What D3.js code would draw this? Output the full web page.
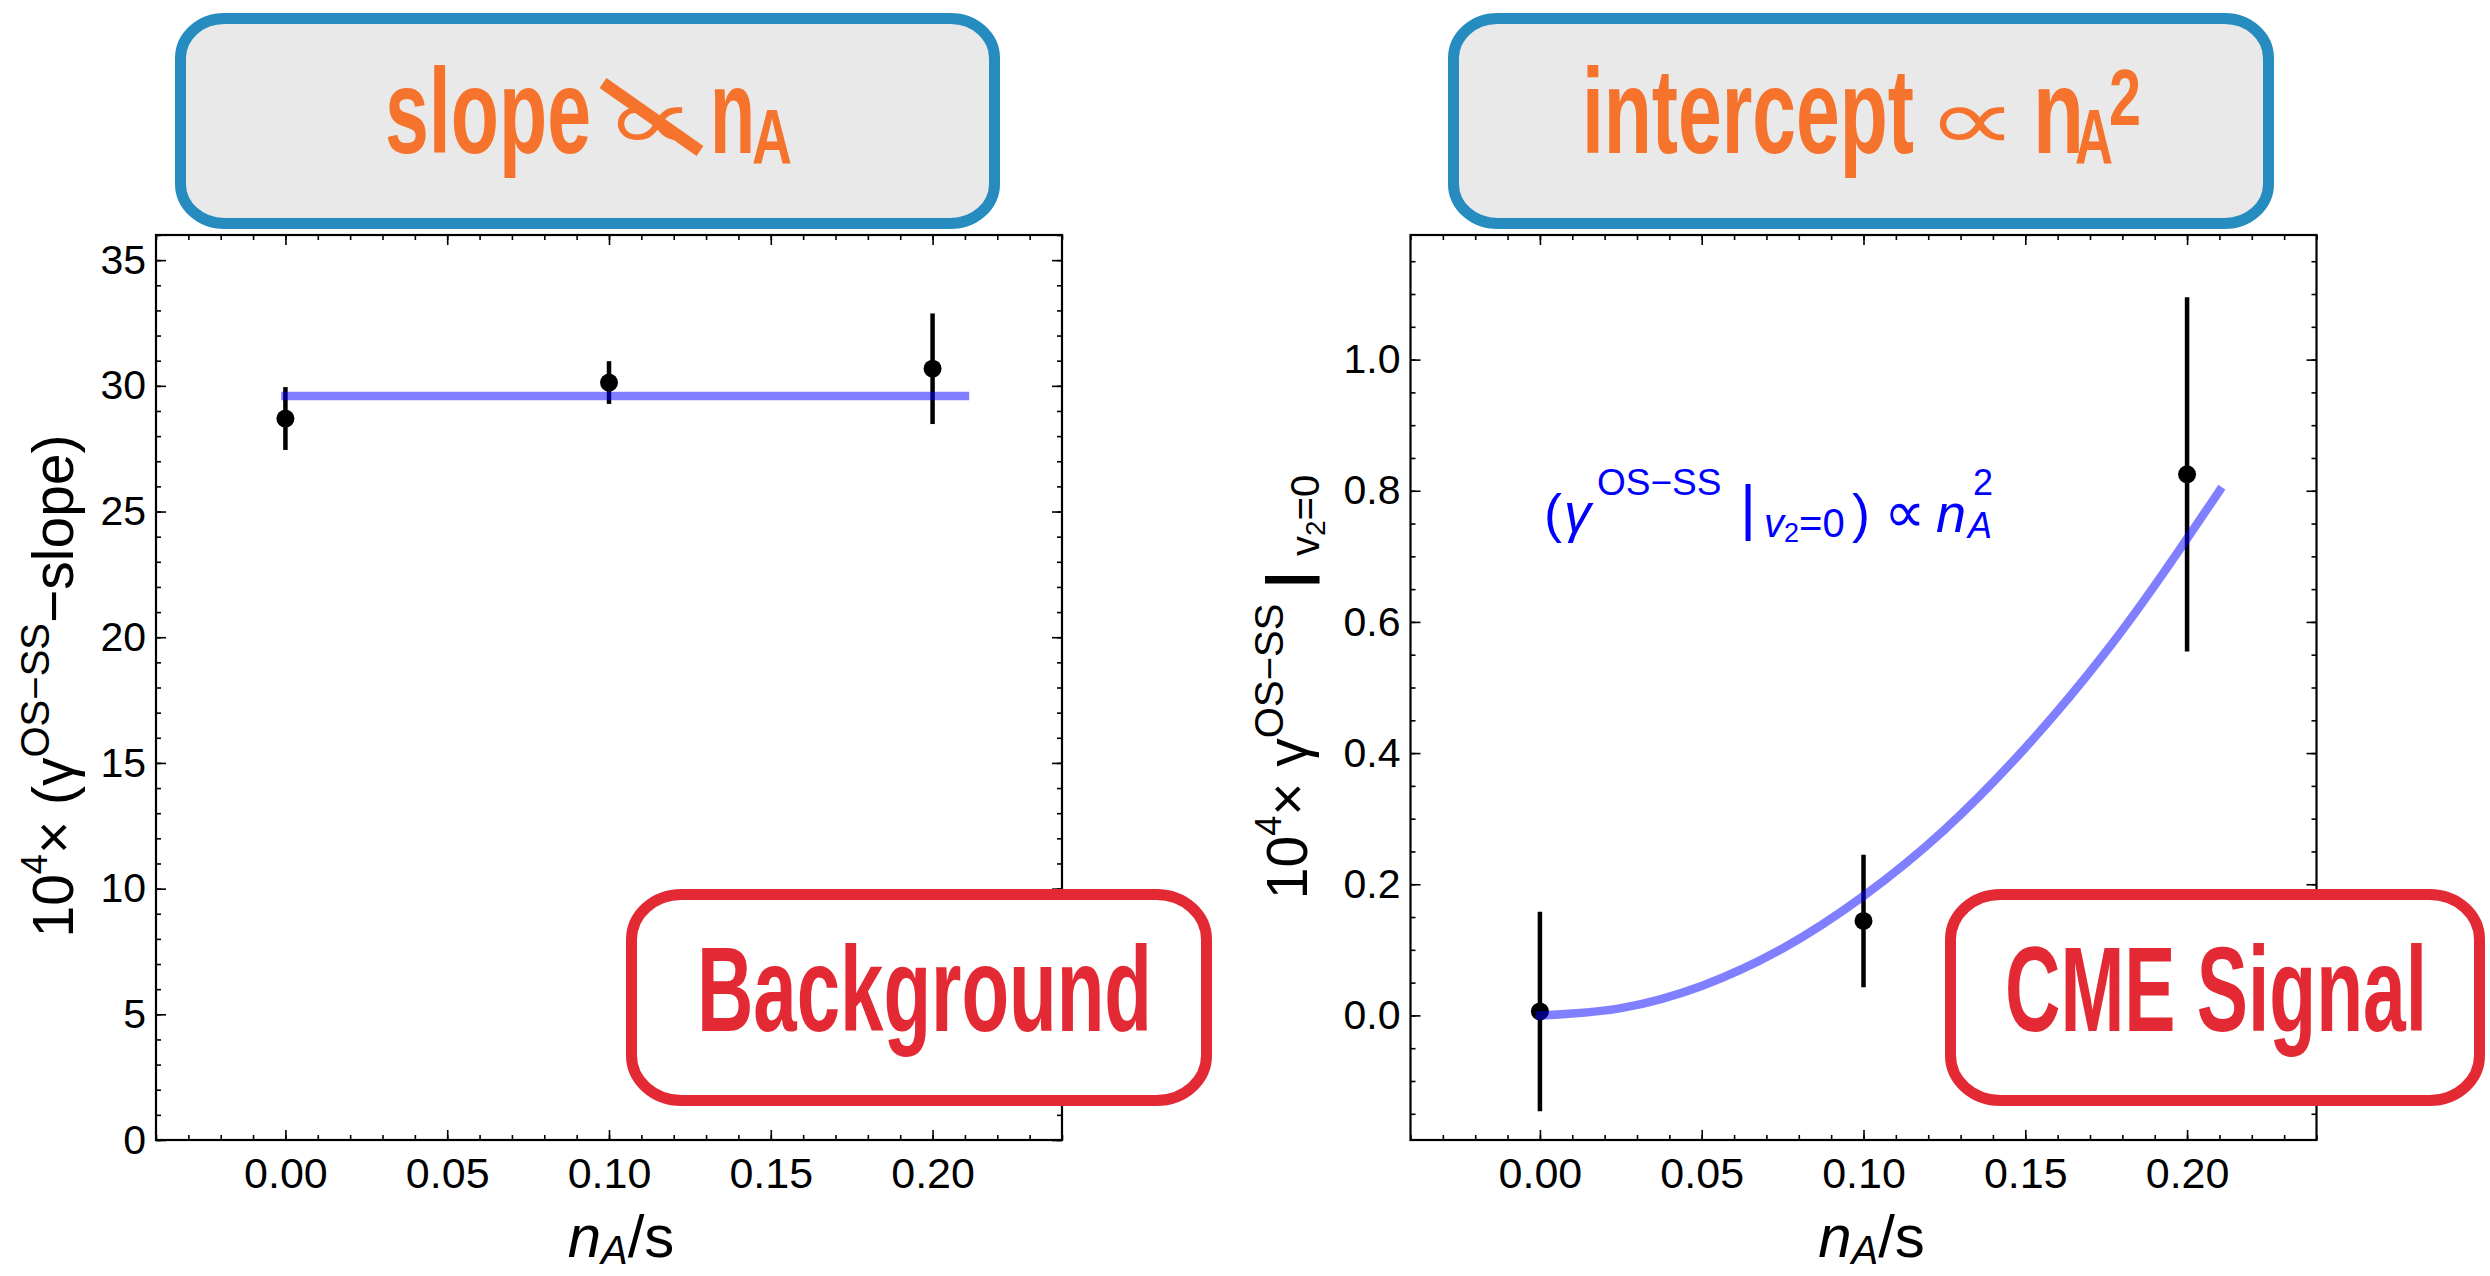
<!DOCTYPE html>
<html>
<head>
<meta charset="utf-8">
<script src="https://cdn.jsdelivr.net/npm/d3@7"></script>
<style>
body { margin: 0; background: #fff; }
svg { display: block; }
</style>
</head>
<body>
<svg id="viz" width="2490" height="1276"></svg>
<script>
// values
var nA = [0, 0.10, 0.20];
var slopeVal = [28.70, 30.13, 30.68];
var slopeErr = [1.25, 0.85, 2.20];
var slopeFitX = [0, 0.21];
var slopeFitY = [29.60, 29.60];
var interVal = [0.006, 0.144, 0.825];
var interErr = [0.152, 0.101, 0.270];
// points
var interFitX = [0, 0.025, 0.05, 0.075, 0.10, 0.125, 0.15, 0.175, 0.21];
var interFitY = [0, 0.011, 0.045, 0.102, 0.182, 0.283, 0.408, 0.555, 0.80];
var xTicks = [0, 0.05, 0.10, 0.15, 0.20];
var slopeTicks = [0, 5, 10, 15, 20, 25, 30, 35];
var interTicks = [0, 0.2, 0.4, 0.6, 0.8, 1.0];

var FONT = "'Liberation Sans', Arial, Helvetica, sans-serif",
	NARROW = "'Liberation Sans Narrow', 'Liberation Sans', Arial, sans-serif",
	ORANGE = '#f5732c', RED = '#e32a34', BLUE = '#268cc0', FIT = 'rgb(0,0,255)';

var viz = d3.select('#viz');

var xMinor = d3.range(-4, 25).map(function(d) { return d / 100; });

function drawPanel(left, yDomain, yMajor, yMinor, yFmt, vals, errs, fitX, fitY) {
	var x = d3.scaleLinear().domain([-0.04, 0.24]).range([left, left + 906]),
		y = d3.scaleLinear().domain(yDomain).range([1140, 235]),
		g = viz.append('g');

	function frameAxis(axis, tr) {
		var a = g.append('g').attr('transform', tr).call(axis);
		a.select('.domain').remove();
		a.selectAll('line').attr('stroke', '#000').attr('stroke-width', 1.6);
		return a;
	}
	// minor ticks, all four sides, pointing inward
	frameAxis(d3.axisBottom(x).tickValues(xMinor).tickSize(-5).tickFormat(''), 'translate(0,1140)');
	frameAxis(d3.axisTop(x).tickValues(xMinor).tickSize(-5).tickFormat(''), 'translate(0,235)');
	frameAxis(d3.axisLeft(y).tickValues(yMinor).tickSize(-5).tickFormat(''), 'translate(' + left + ',0)');
	frameAxis(d3.axisRight(y).tickValues(yMinor).tickSize(-5).tickFormat(''), 'translate(' + (left + 906) + ',0)');
	// major ticks + labels
	frameAxis(d3.axisBottom(x).tickValues(xTicks).tickSize(-10).tickPadding(17).tickFormat(d3.format('.2f')), 'translate(0,1140)')
		.attr('font-size', 43).attr('font-family', FONT);
	frameAxis(d3.axisTop(x).tickValues(xTicks).tickSize(-10).tickFormat(''), 'translate(0,235)');
	frameAxis(d3.axisLeft(y).tickValues(yMajor).tickSize(-10).tickPadding(10).tickFormat(yFmt), 'translate(' + left + ',0)')
		.attr('font-size', 41).attr('font-family', FONT);
	frameAxis(d3.axisRight(y).tickValues(yMajor).tickSize(-10).tickFormat(''), 'translate(' + (left + 906) + ',0)');

	g.append('rect')
		.attr('x', left).attr('y', 235).attr('width', 906).attr('height', 905)
		.attr('fill', 'none').attr('stroke', '#000').attr('stroke-width', 2.2);

	// error bars and points
	g.selectAll('.err').data(nA).enter().append('line')
		.attr('class', 'err')
		.attr('x1', function(d) { return x(d); })
		.attr('x2', function(d) { return x(d); })
		.attr('y1', function(d, i) { return y(vals[i] - errs[i]); })
		.attr('y2', function(d, i) { return y(vals[i] + errs[i]); })
		.attr('stroke', '#000').attr('stroke-width', 4.5);
	g.selectAll('.dot').data(nA).enter().append('circle')
		.attr('class', 'dot')
		.attr('cx', function(d) { return x(d); })
		.attr('cy', function(d, i) { return y(vals[i]); })
		.attr('r', 9).attr('fill', '#000');

	// fit drawn on top, half transparent
	var line = d3.line()
		.x(function(d) { return x(d); })
		.y(function(d, i) { return y(fitY[i]); })
		.curve(d3.curveMonotoneX);
	g.append('path').datum(fitX)
		.attr('d', line)
		.attr('fill', 'none').attr('stroke', FIT).attr('stroke-opacity', 0.5)
		.attr('stroke-width', 8.5).attr('stroke-linecap', 'square');
	return x;
}

var xL = drawPanel(156, [0, 36], slopeTicks, d3.range(0, 37), d3.format('d'),
	slopeVal, slopeErr, slopeFitX, slopeFitY);
var xR = drawPanel(1410.5, [-0.19, 1.19], interTicks,
	d3.range(-3, 24).map(function(d) { return d * 0.05; }), d3.format('.1f'),
	interVal, interErr, interFitX, interFitY);

// axis titles
function xTitle(cx) {
	var t = viz.append('text').attr('x', cx).attr('y', 1257)
		.attr('text-anchor', 'middle').attr('font-size', 60).attr('font-family', FONT);
	t.append('tspan').attr('font-style', 'italic').text('n');
	t.append('tspan').attr('font-style', 'italic').attr('font-size', 40).attr('dy', 7).text('A');
	t.append('tspan').attr('dy', -7).text('/s');
}
xTitle(xL(0.10) + 12);
xTitle(xR(0.10) + 8);

var yl = viz.append('text').attr('transform', 'translate(73,686) rotate(-90)')
	.attr('text-anchor', 'middle').attr('font-size', 57).attr('font-family', FONT);
yl.append('tspan').text('10');
yl.append('tspan').attr('font-size', 36).attr('dy', -26).text('4');
yl.append('tspan').attr('dy', 26).text('\u00d7 (');
yl.append('tspan').text('\u03b3');
yl.append('tspan').attr('font-size', 40).attr('dy', -24).text('OS\u2212SS');
yl.append('tspan').attr('dy', 24).text('\u2212slope)');

var yr = viz.append('text').attr('transform', 'translate(1307,687) rotate(-90)')
	.attr('text-anchor', 'middle').attr('font-size', 57).attr('font-family', FONT);
yr.append('tspan').text('10');
yr.append('tspan').attr('font-size', 36).attr('dy', -26).text('4');
yr.append('tspan').attr('dy', 26).text('\u00d7 \u03b3');
yr.append('tspan').attr('font-size', 40).attr('dy', -24).text('OS\u2212SS');
yr.append('tspan').attr('dy', 24).attr('font-weight', 'bold').text(' | ');
yr.append('tspan').attr('font-size', 40).attr('dy', 12).text('v');
yr.append('tspan').attr('font-size', 28).attr('dy', 6).text('2');
yr.append('tspan').attr('font-size', 40).attr('dy', -6).text('=0');

// blue annotation in the right panel
var an = viz.append('text').attr('x', 1544).attr('y', 532)
	.attr('font-size', 54).attr('font-family', FONT).attr('fill', '#0000ff');
an.append('tspan').text('(');
an.append('tspan').attr('x', 1564).attr('font-style', 'italic').text('\u03b3');
an.append('tspan').attr('x', 1597).attr('font-size', 37).attr('dy', -37).text('OS\u2212SS');
an.append('tspan').attr('x', 1740).attr('font-size', 62).attr('dy', 33).text('|');
an.append('tspan').attr('x', 1764).attr('font-size', 40).attr('font-style', 'italic').attr('dy', 9).text('v');
an.append('tspan').attr('font-size', 27).attr('dy', 5).text('2');
an.append('tspan').attr('font-size', 40).attr('dy', -5).text('=0');
an.append('tspan').attr('x', 1852).attr('dy', -5).text(')');
an.append('tspan').attr('x', 1884).attr('font-size', 58).text('\u221d');
an.append('tspan').attr('x', 1936).attr('font-style', 'italic').text('n');
an.append('tspan').attr('x', 1973).attr('font-size', 36).attr('dy', -37).text('2');
an.append('tspan').attr('x', 1968).attr('font-size', 36).attr('font-style', 'italic').attr('dy', 43).text('A');

// boxes
function box(x0, y0, x1, y1, stroke, fill, r) {
	viz.append('rect')
		.attr('x', x0 + 5.5).attr('y', y0 + 5.5)
		.attr('width', x1 - x0 - 11).attr('height', y1 - y0 - 11)
		.attr('rx', r).attr('ry', r * 0.9)
		.attr('fill', fill).attr('stroke', stroke).attr('stroke-width', 11);
}
function squeezed(txt, x, y, size, width, color, family, weight) {
	return viz.append('text').attr('x', x).attr('y', y)
		.attr('font-size', size).attr('font-family', family).attr('font-weight', weight)
		.attr('fill', color).attr('textLength', width).attr('lengthAdjust', 'spacingAndGlyphs')
		.text(txt);
}

box(175, 13, 1000, 229, BLUE, '#e9e9e9', 44);
box(1448, 13, 2274, 229, BLUE, '#e9e9e9', 44);
box(626, 889, 1212, 1106, RED, '#fff', 50);
box(1945, 889, 2485, 1106, RED, '#fff', 50);

squeezed('slope', 385, 153, 120, 206, ORANGE, NARROW, 'bold');
squeezed('\u221d', 604, 150, 88, 92, ORANGE, "'DejaVu Sans', sans-serif", 'normal');
viz.append('line').attr('x1', 603).attr('y1', 83).attr('x2', 700).attr('y2', 151)
	.attr('stroke', ORANGE).attr('stroke-width', 12);
squeezed('n', 710, 153, 120, 45, ORANGE, NARROW, 'bold');
squeezed('A', 752, 164, 78, 40, ORANGE, NARROW, 'bold');

squeezed('intercept', 1582, 153, 120, 332, ORANGE, NARROW, 'bold');
squeezed('\u221d', 1926, 150, 88, 92, ORANGE, "'DejaVu Sans', sans-serif", 'normal');
squeezed('n', 2033, 153, 120, 51, ORANGE, NARROW, 'bold');
squeezed('A', 2075, 164, 78, 38, ORANGE, NARROW, 'bold');
squeezed('2', 2109, 125, 80, 32, ORANGE, NARROW, 'bold');

squeezed('Background', 697, 1031, 120, 455, RED, NARROW, 'bold');
squeezed('CME Signal', 2005, 1031, 120, 422, RED, NARROW, 'bold');
</script>
</body>
</html>
